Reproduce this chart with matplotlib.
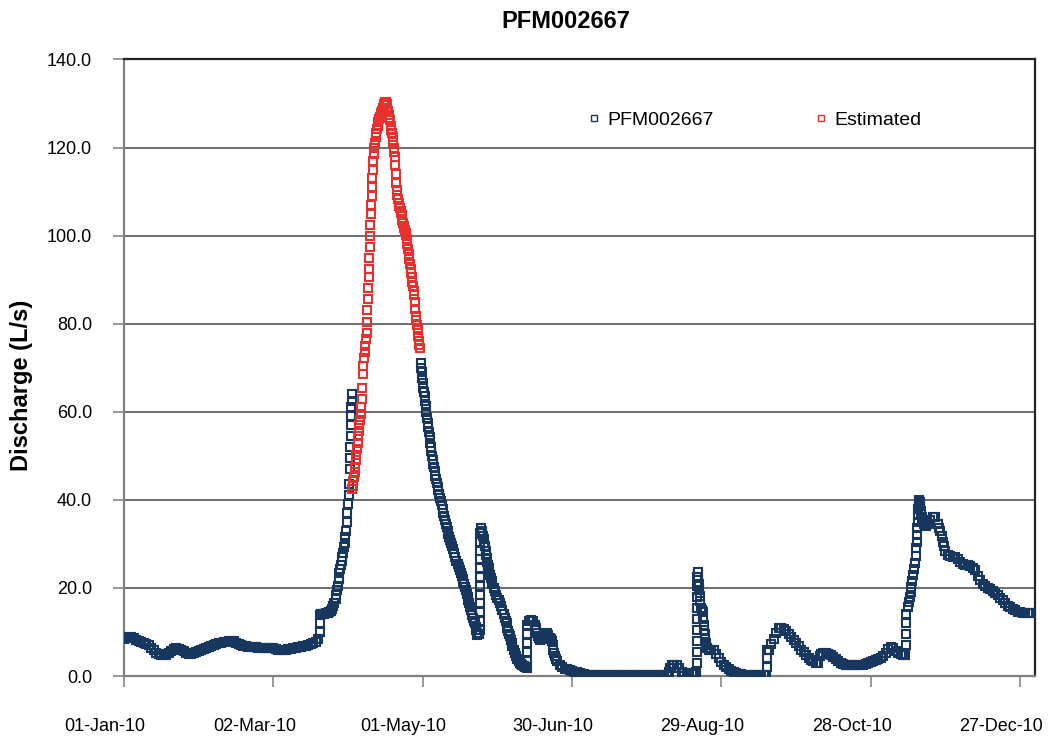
import numpy as np
import matplotlib
matplotlib.use("Agg")
import matplotlib.pyplot as plt
import matplotlib.dates as mdates
from matplotlib.transforms import ScaledTranslation

plt.rcParams['font.family'] = ['Liberation Sans', 'DejaVu Sans']

title = "PFM002667"
y_label = "Discharge (L/s)"
start_date = "2010-01-01"
tick_dates = ["2010-01-01", "2010-03-02", "2010-05-01", "2010-06-30",
              "2010-08-29", "2010-10-28", "2010-12-27"]
y_ticks = [0, 20, 40, 60, 80, 100, 120, 140]

# Gauged discharge as (days since 01-Jan-10, flow in L/s), one list per stretch
winter = [
    (0, 8.4), (1, 8.6), (2, 8.8), (3, 8.9), (4, 8.6), (5, 8.2), (6, 7.9), (7, 7.7),
    (8, 7.5), (9, 7.2), (10, 7.0), (11, 6.4), (12, 5.8), (13, 5.2), (14, 4.9), (15, 4.8),
    (16, 4.7), (17, 4.8), (18, 5.2), (19, 5.7), (20, 6.1), (21, 6.3), (22, 6.2), (23, 5.9),
    (24, 5.6), (25, 5.3), (26, 5.1), (27, 5.0), (28, 5.2), (29, 5.5), (30, 5.7), (31, 5.9),
    (32, 6.1), (33, 6.3), (34, 6.5), (35, 6.8), (36, 7.0), (37, 7.3), (38, 7.5), (39, 7.6),
    (40, 7.7), (41, 7.8), (42, 7.9), (43, 8.0), (44, 7.9), (45, 7.6), (46, 7.3), (47, 7.1),
    (48, 6.9), (49, 6.8), (50, 6.7), (51, 6.6), (52, 6.5), (53, 6.5), (54, 6.4), (55, 6.4),
    (56, 6.4), (57, 6.3), (58, 6.3), (59, 6.3), (60, 6.3), (61, 6.1), (62, 6.0), (63, 5.9),
    (64, 5.9), (65, 6.0), (66, 6.1), (67, 6.2), (68, 6.3), (69, 6.4), (70, 6.6), (71, 6.7),
    (72, 6.8), (73, 6.9), (74, 7.0), (75, 7.2), (76, 7.5), (77, 7.8), (78, 8.5),
]
spring_rise = [
    (78.8, 10.0), (78.8, 12.0), (78.8, 13.8), (79, 14.0), (79.5, 14.0), (80, 14.0),
    (80.5, 14.1), (81, 14.2), (81.5, 14.2), (82, 14.3), (82.5, 14.5), (83, 14.8),
    (83.5, 15.2), (84, 15.8), (84.5, 16.5), (85, 17.5), (85.3, 18.5), (85.6, 19.5),
    (85.9, 20.5), (86.2, 22.0), (86.5, 23.4), (86.8, 24.3), (87.1, 25.2), (87.4, 26.2),
    (87.7, 27.0), (88, 28.0), (88.3, 29.2), (88.6, 30.3), (88.9, 31.5), (89.2, 33.0),
    (89.5, 35.0), (89.75, 37.0), (90, 39.0), (90.2, 41.0), (90.4, 43.5), (90.6, 47.0),
    (90.75, 49.5), (90.9, 52.0), (91.0, 54.5), (91.1, 57.0), (91.2, 59.0), (91.3, 61.0),
    (91.4, 62.5), (91.5, 64.0),
]
spring_recession = [
    (119.3, 71.0), (119.45, 70.0), (119.6, 69.0), (119.8, 67.7), (120.0, 66.5),
    (120.25, 65.5), (120.5, 64.5), (120.75, 63.5), (121.0, 62.5), (121.25, 61.2),
    (121.5, 60.0), (121.75, 58.7), (122.0, 57.5), (122.25, 56.5), (122.5, 55.5),
    (122.75, 54.2), (123.0, 53.0), (123.25, 52.0), (123.5, 51.0), (123.75, 50.0),
    (124.0, 49.0), (124.25, 48.2), (124.5, 47.5), (124.75, 46.5), (125.0, 45.5),
    (125.33, 44.7), (125.67, 43.8), (126.0, 43.0), (126.33, 42.2), (126.67, 41.3),
    (127.0, 40.5), (127.33, 39.7), (127.67, 38.8), (128.0, 38.0), (128.33, 37.1),
    (128.67, 36.3), (129.0, 35.4), (129.33, 34.6), (129.67, 33.8), (130.0, 33.0),
    (130.33, 32.3), (130.67, 31.6), (131.0, 30.9), (131.33, 30.2), (131.67, 29.5),
    (132.0, 28.8), (132.5, 27.9), (133.0, 27.0), (133.5, 26.2), (134.0, 25.5),
    (134.5, 24.8), (135.0, 24.0), (135.33, 23.3), (135.67, 22.7), (136.0, 22.0),
    (136.33, 21.4), (136.67, 20.8), (137.0, 20.2), (137.33, 19.5), (137.67, 18.7),
    (138.0, 18.0), (138.33, 17.2), (138.67, 16.5), (139.0, 15.7), (139.33, 15.0),
    (139.67, 14.4), (140.0, 13.8), (140.33, 13.2), (140.67, 12.6), (141.0, 12.0),
    (141.25, 11.2), (141.5, 10.5), (141.75, 9.8), (142.0, 9.3), (142.5, 9.5),
]
june_events = [
    (143, 10.5), (143, 12.5), (143, 14.5), (143, 16.5), (143, 18.5), (143, 20.5),
    (143, 22.5), (143, 24.5), (143, 26.5), (143, 28.5), (143, 30.5), (143, 32.5),
    (143.6, 33.6), (143.8, 33.0), (144.0, 32.5), (144.25, 31.7), (144.5, 31.0),
    (144.75, 30.2), (145.0, 29.5), (145.25, 28.5), (145.5, 27.5), (145.75, 26.7),
    (146.0, 26.0), (146.25, 25.2), (146.5, 24.5), (146.75, 23.7), (147.0, 23.0),
    (147.33, 22.3), (147.67, 21.5), (148.0, 20.8), (148.5, 20.0), (149.0, 19.3),
    (149.5, 18.5), (150.0, 17.8), (150.5, 17.2), (151.0, 16.6), (151.5, 15.8),
    (152.0, 15.0), (152.5, 14.1), (153.0, 13.2), (153.35, 12.6), (153.7, 12.0),
    (154.0, 11.0), (154.33, 10.3), (154.67, 9.6), (155.0, 9.0), (155.35, 8.2),
    (155.7, 7.5), (156.0, 6.8), (156.5, 6.0), (157.0, 5.2), (157.5, 4.5), (158.0, 3.8),
    (158.5, 3.4), (159.0, 3.0), (159.5, 2.7), (160.0, 2.5), (160.5, 2.2), (161.0, 2.0),
    (161.7, 1.8),
    (162, 3.5), (162, 5.5), (162, 7.5), (162, 9.5), (162, 11.5),
    (162.8, 12.5), (163.5, 12.7), (164.3, 12.5), (165, 11.5), (165.35, 11.0),
    (165.7, 10.5), (166.0, 9.7), (166.3, 9.0), (166.65, 8.6), (167, 8.2), (167.5, 8.3),
    (168, 8.5), (168.5, 9.0), (169, 9.5), (169.8, 9.7), (170.5, 9.3), (171, 8.6),
    (171.4, 8.3), (171.8, 8.0), (172.15, 7.0), (172.5, 6.0), (172.75, 5.2), (173, 4.5),
    (173.5, 3.8), (174, 3.3), (175, 2.5), (176, 2.0), (177, 1.7), (178, 1.5), (179, 1.3),
    (180, 1.1), (181, 0.9), (182, 0.8), (183, 0.7), (184, 0.5), (185, 0.4), (186, 0.25),
]
summer = [
    (187, 0.2), (188, 0.2), (189, 0.2), (190, 0.2), (191, 0.2), (192, 0.2), (193, 0.2),
    (194, 0.2), (195, 0.2), (196, 0.2), (197, 0.2), (198, 0.2), (199, 0.2), (200, 0.2),
    (201, 0.2), (202, 0.2), (203, 0.2), (204, 0.2), (205, 0.2), (206, 0.2), (207, 0.2),
    (208, 0.2), (209, 0.2), (210, 0.2), (211, 0.2), (212, 0.2), (213, 0.2), (214, 0.2),
    (215, 0.2), (216, 0.2), (217, 0.2), (218, 0.2), (218.5, 0.2), (219, 1.0), (219.5, 1.8),
    (220, 2.5), (221, 2.6), (222, 2.5), (223, 1.8), (224, 1.0), (225, 0.7), (226, 0.6),
    (227, 0.5), (228, 0.5), (229, 0.5), (229.8, 0.8),
]
august_event = [
    (230, 3.0), (230, 5.5), (230, 8.0), (230, 10.5), (230, 13.0), (230, 15.5),
    (230, 18.0), (230, 20.5), (230, 22.5),
    (230.5, 23.7), (230.8, 22.5), (231.0, 21.0), (231.2, 19.5), (231.4, 18.2),
    (231.6, 17.0), (232, 15.5), (232.25, 15.0), (232.5, 14.5), (232.75, 13.0),
    (233, 11.5), (233.2, 10.5), (233.4, 9.5), (233.6, 8.5), (233.8, 7.5), (234.0, 7.0),
    (234.3, 6.3), (235, 5.9), (236, 5.8), (237, 5.9), (238, 5.0), (239, 4.0), (240, 3.2),
    (241, 2.6), (242, 2.0), (243, 1.6), (244, 1.2), (245, 0.9), (246, 0.7), (247, 0.5),
    (248, 0.4), (249, 0.3), (250, 0.2), (251, 0.2), (252, 0.2), (253, 0.2), (254, 0.2),
    (255, 0.2), (256, 0.2), (257, 0.2), (258, 0.2),
]
autumn = [
    (258.5, 2.0), (258.5, 4.0), (258.5, 5.9), (259, 6.0), (260, 7.2), (261, 8.5),
    (262, 9.8), (263, 10.8), (264, 11.0), (265, 10.7), (266, 10.3), (267, 9.6),
    (268, 8.8), (269, 8.1), (270, 7.4), (271, 6.8), (272, 6.0), (273, 5.4), (274, 4.8),
    (275, 4.2), (276, 3.7), (277, 3.3), (278, 3.0), (278.8, 2.9), (279.5, 4.5),
    (280, 5.0), (281, 5.3), (282, 5.2), (283, 5.0), (284, 4.7), (285, 4.3), (286, 3.8),
    (287, 3.3), (288, 2.9), (289, 2.7), (290, 2.6), (291, 2.5), (292, 2.5), (293, 2.5),
    (294, 2.5), (295, 2.5), (296, 2.5), (297, 2.5), (298, 2.7), (299, 2.9), (300, 3.1),
    (301, 3.3), (302, 3.6), (303, 3.9), (304, 4.2), (305, 4.5), (306, 5.3), (307, 6.2),
    (308, 6.6), (309, 6.3), (310, 5.6), (311, 5.2), (312, 5.0), (313, 4.8), (313.7, 4.8),
]
november_event = [
    (314, 7.0), (314, 9.5), (314, 12.0), (314, 14.0),
    (315, 15.7), (315.35, 16.8), (315.7, 18.0), (316.0, 19.1), (316.3, 20.2),
    (316.65, 21.6), (317.0, 23.0), (317.35, 24.3), (317.7, 25.7), (318.0, 27.3),
    (318.3, 29.0), (318.45, 30.5), (318.6, 32.0), (318.75, 33.5), (318.9, 35.0),
    (319.0, 36.5), (319.1, 38.0), (319.2, 39.0), (319.3, 40.0), (319.45, 39.8),
    (319.6, 39.5), (319.8, 38.5), (320.0, 37.5), (320.25, 36.7), (320.5, 36.0),
    (320.75, 35.5), (321, 35.0), (321.5, 34.5), (322, 34.0), (323, 34.5), (324, 35.5),
    (325, 36.0), (326, 36.0), (327, 34.5), (327.5, 33.7), (328, 33.0), (328.5, 31.7),
    (329, 30.5), (329.5, 29.5), (330, 28.5), (331, 27.5), (332, 27.2), (333, 27.0),
    (334, 27.0), (335, 26.5), (336, 26.0), (337, 25.5), (338, 25.2), (339, 25.2),
    (340, 25.0), (341, 24.6), (342, 24.0), (343, 22.8), (344, 21.8), (345, 21.0),
    (346, 20.4), (347, 20.0), (348, 19.7), (349, 19.4), (350, 18.8), (351, 18.3),
    (352, 17.8), (353, 17.2), (354, 16.6), (355, 16.0), (356, 15.6), (357, 15.2),
    (358, 14.9), (359, 14.6), (360, 14.5), (361, 14.4), (362, 14.4), (363, 14.4),
    (364, 14.3), (365, 14.3),
]

# Estimated discharge over the gap in the gauged record
estimated = [
    (91.6, 42.5), (91.85, 43.2), (92.1, 44.2), (92.35, 45.2), (92.6, 46.3),
    (92.85, 47.5), (93.1, 49.0), (93.35, 50.2), (93.6, 51.5), (93.85, 53.0),
    (94.1, 54.5), (94.35, 55.7), (94.6, 57.0), (94.85, 58.2), (95.1, 59.5),
    (95.35, 61.0), (95.55, 63.0), (95.75, 65.5), (95.95, 68.5), (96.2, 70.5),
    (96.45, 72.3), (96.7, 73.5), (96.95, 75.0), (97.2, 76.5), (97.45, 78.0),
    (97.65, 80.5), (97.8, 83.0), (97.95, 85.5), (98.1, 88.0), (98.25, 90.5),
    (98.4, 92.5), (98.55, 95.0), (98.7, 97.5), (98.85, 100.0), (99.0, 102.5),
    (99.15, 105.0), (99.3, 107.0), (99.45, 109.0), (99.6, 111.0), (99.75, 113.0),
    (99.9, 115.0), (100.1, 117.0), (100.35, 118.5), (100.6, 119.8), (100.85, 121.0),
    (101.1, 122.3), (101.35, 123.3), (101.6, 124.2), (101.9, 125.0), (102.2, 125.8),
    (102.5, 126.5), (102.8, 127.0), (103.1, 127.3), (103.4, 127.8), (103.7, 128.4),
    (104.0, 129.0), (104.3, 129.6), (104.6, 130.0), (104.9, 130.3), (105.2, 130.4),
    (105.5, 129.8), (105.8, 129.0), (106.05, 128.2), (106.3, 127.5), (106.55, 126.8),
    (106.8, 126.2), (107.1, 125.0), (107.4, 124.0), (107.7, 123.2), (108.0, 122.4),
    (108.2, 121.2), (108.4, 120.0), (108.6, 118.9), (108.8, 117.8), (109.0, 116.0),
    (109.2, 114.0), (109.4, 112.0), (109.6, 110.3), (109.85, 109.3), (110.1, 108.3),
    (110.35, 107.5), (110.6, 106.8), (110.85, 106.2), (111.1, 105.7), (111.35, 105.2),
    (111.6, 104.6), (111.85, 103.6), (112.1, 102.8), (112.35, 102.2), (112.6, 101.7),
    (112.85, 101.2), (113.1, 100.7), (113.35, 100.1), (113.6, 99.3), (113.85, 98.2),
    (114.1, 97.0), (114.35, 95.8), (114.6, 94.6), (114.85, 93.5), (115.1, 92.5),
    (115.35, 91.5), (115.6, 90.5), (115.85, 89.5), (116.1, 88.5), (116.35, 87.5),
    (116.6, 86.5), (116.85, 85.0), (117.1, 83.3), (117.3, 81.8), (117.5, 80.8),
    (117.75, 79.6), (118.0, 78.5), (118.25, 77.2), (118.5, 76.0), (118.7, 75.2),
    (118.9, 74.5),
]

navy = "#17375e"
red = "#e8302f"

gauged = np.array(winter + spring_rise + spring_recession + june_events + summer
                  + august_event + autumn + november_event)
est = np.array(estimated)

base = mdates.date2num(np.datetime64(start_date))

fig = plt.figure(figsize=(10.51, 7.36), dpi=100)
ax = fig.add_axes([0.118, 0.0815, 0.8668, 0.8377])

marker_style = dict(linestyle="none", marker="s", markersize=5.3,
                    markerfacecolor="none", markeredgewidth=1.5)
ax.plot(base + gauged[:, 0], gauged[:, 1], markeredgecolor=navy,
        label="PFM002667", zorder=3, **marker_style)
ax.plot(base + est[:, 0], est[:, 1], markeredgecolor=red,
        label="Estimated", zorder=4, **marker_style)

ax.set_xlim(base, base + 366)
ax.set_ylim(0, 140)
ax.set_yticks(y_ticks)
ax.yaxis.set_major_formatter(matplotlib.ticker.FormatStrFormatter("%.1f"))
ax.set_xticks([mdates.date2num(np.datetime64(d)) for d in tick_dates])
ax.xaxis.set_major_formatter(mdates.DateFormatter("%d-%b-%y"))

ax.grid(axis="y", color="#555555", linewidth=1.2, zorder=0)
ax.set_axisbelow(True)

ax.tick_params(axis="both", direction="out", length=8, width=1.2,
               color="#888888", labelsize=13)
ax.tick_params(axis="x", pad=22)
ax.tick_params(axis="y", pad=15)

# date labels sit a little to the left of their tick marks
shift = ScaledTranslation(-0.19, 0, fig.dpi_scale_trans)
for lab in ax.get_xticklabels():
    lab.set_transform(lab.get_transform() + shift)

for side in ("left", "bottom"):
    ax.spines[side].set_color("#808080")
    ax.spines[side].set_linewidth(1.6)
for side in ("top", "right"):
    ax.spines[side].set_color("#222222")
    ax.spines[side].set_linewidth(1.6)

fig.text(566 / 1051, 1 - 22 / 736, title, fontsize=17, fontweight="bold",
         ha="center", va="center")
fig.text(22 / 1051, 1 - 385 / 736, y_label, fontsize=17, fontweight="bold",
         rotation=90, ha="center", va="center")

legend = ax.legend(loc="center left", bbox_to_anchor=(0.51, 0.902), ncol=2,
                   frameon=False, fontsize=14, handlelength=0.6,
                   handletextpad=0.35, columnspacing=5.25, borderpad=0,
                   borderaxespad=0)
for handle in legend.get_lines():
    handle.set_markersize(4.3)
    handle.set_markeredgewidth(1.0)

fig.savefig("out.png", dpi=100)
